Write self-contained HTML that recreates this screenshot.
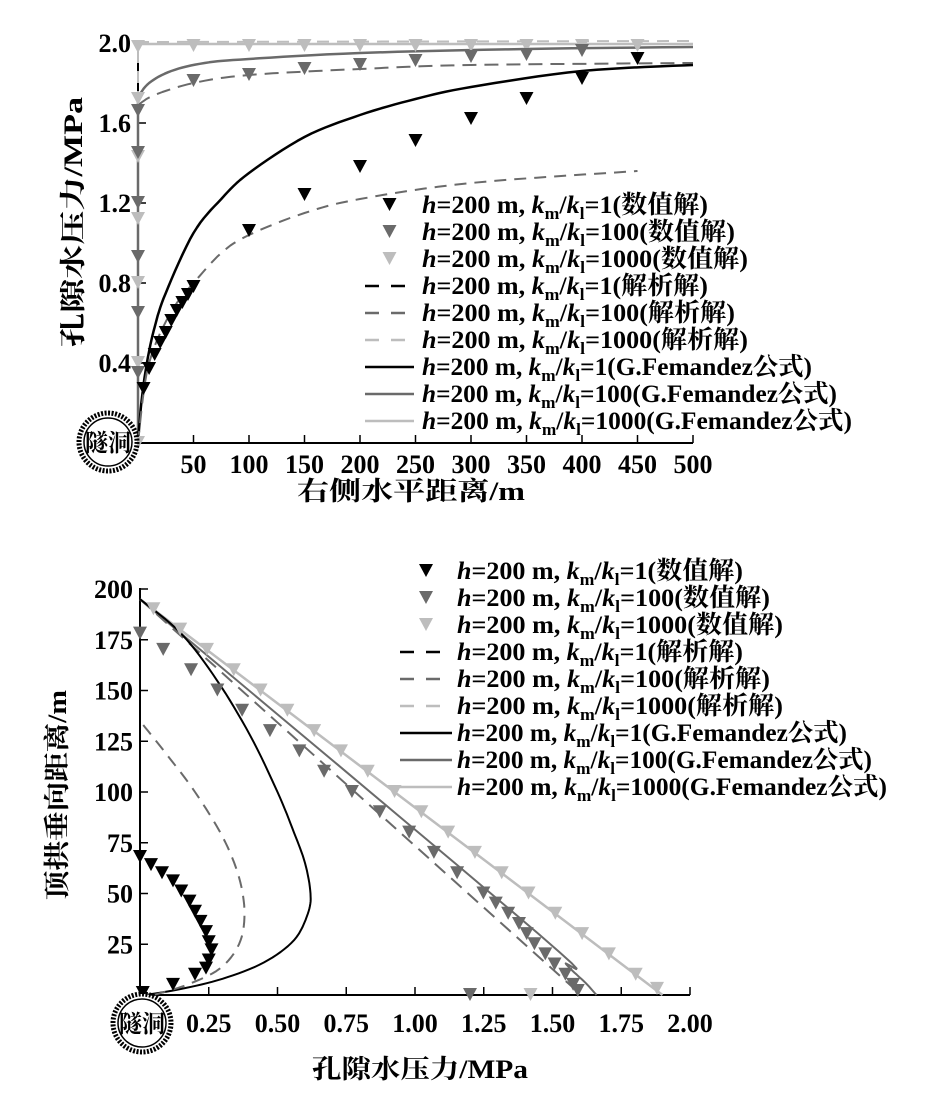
<!DOCTYPE html>
<html><head><meta charset="utf-8"><style>
html,body{margin:0;padding:0;background:#fff;}
svg{display:block;font-family:"Liberation Serif","Noto Serif CJK SC",serif;font-weight:bold;}
</style></head><body>
<svg id="s" width="930" height="1105" viewBox="0 0 930 1105" xmlns="http://www.w3.org/2000/svg">
<rect width="930" height="1105" fill="#fff"/>
<g id="g"></g>
</svg>
<script>
const NS="http://www.w3.org/2000/svg",g=document.getElementById('g');
function el(t,a,txt){const e=document.createElementNS(NS,t);for(const k in a)e.setAttribute(k,a[k]);if(txt!=null)e.textContent=txt;g.appendChild(e);return e;}
function path(pts,st,w,dash){let d='M'+pts.map(p=>p[0].toFixed(1)+','+p[1].toFixed(1)).join(' L');el('path',{d:d,fill:'none',stroke:st,'stroke-width':w,'stroke-dasharray':dash||'none','stroke-linejoin':'round'});}
function tri(x,y,c){el('path',{d:`M${x-7},${y-7} L${x+7},${y-7} L${x},${y+6} Z`,fill:c});}
function smooth(pts,n){n=n||8;const out=[];for(let i=0;i<pts.length-1;i++){const p0=pts[Math.max(0,i-1)],p1=pts[i],p2=pts[i+1],p3=pts[Math.min(pts.length-1,i+2)];for(let j=0;j<n;j++){const t=j/n,t2=t*t,t3=t2*t;out.push([0,1].map(k=>0.5*((2*p1[k])+(-p0[k]+p2[k])*t+(2*p0[k]-5*p1[k]+4*p2[k]-p3[k])*t2+(-p0[k]+3*p1[k]-3*p2[k]+p3[k])*t3)));}}out.push(pts[pts.length-1]);return out;}
const K='#000',D='#6a6a6a',L='#bdbdbd';
const TF=26;
// ===== TOP =====
const TX=v=>138+1.11*v, TY=p=>443-200*p;
const T=a=>a.map(q=>[TX(q[0]),TY(q[1])]);
el('line',{x1:138,y1:443,x2:693,y2:443,stroke:K,'stroke-width':2});
el('line',{x1:138,y1:443,x2:138,y2:42,stroke:K,'stroke-width':2});
for(let v=50;v<=500;v+=50){el('line',{x1:TX(v),y1:443,x2:TX(v),y2:435,stroke:K,'stroke-width':1.5});el('text',{x:TX(v),y:473,'text-anchor':'middle','font-size':TF},v);}
[0.4,0.8,1.2,1.6,2.0].forEach(p=>{el('line',{x1:138,y1:TY(p),x2:146,y2:TY(p),stroke:K,'stroke-width':1.5});el('text',{x:131,y:TY(p)+9,'text-anchor':'end','font-size':TF},p.toFixed(1));});
path(T([[500,1.995],[0,1.995]]),L,2.5);
path(T([[0,0],[0,2.005],[500,2.01]]),L,2,'12,8');
path(T([[0,0],[0,1.73]]).concat(smooth(T([[0,1.73],[10,1.8],[30,1.86],[60,1.9],[100,1.92],[200,1.95],[350,1.97],[500,1.98]]))),D,2.5);
path(smooth(T([[0,1.69],[15,1.74],[50,1.8],[100,1.84],[200,1.87],[300,1.89],[500,1.9]])),D,2,'14,8');
path(smooth(T([[0,0],[3,0.2],[8,0.4],[15,0.58],[25,0.75],[50,1.05],[75,1.22],[100,1.35],[150,1.53],[200,1.64],[250,1.72],[300,1.78],[400,1.86],[500,1.89]])),K,2.5);
path(smooth(T([[0,0],[5,0.25],[10,0.4],[20,0.55],[35,0.7],[50,0.8],[75,0.95],[100,1.04],[150,1.15],[200,1.22],[300,1.3],[450,1.36]])),D,2,'12,8');
[0,0.4,0.8,1.12,1.43,1.72,1.98].forEach(p=>tri(TX(0),TY(p),L));
for(let v=50;v<=450;v+=50)tri(TX(v),TY(1.985),L);
[0.35,0.65,0.93,1.2,1.45,1.66].forEach(p=>tri(TX(0),TY(p),D));
[[50,1.81],[100,1.84],[150,1.87],[200,1.89],[250,1.91],[300,1.93],[350,1.94],[400,1.96]].forEach(q=>tri(TX(q[0]),TY(q[1]),D));
[[5,0.27],[10,0.37],[15,0.44],[20,0.5],[25,0.55],[30,0.61],[35,0.66],[40,0.7],[45,0.74],[50,0.78],[100,1.06],[150,1.24],[200,1.38],[250,1.51],[300,1.62],[350,1.72],[400,1.82],[450,1.92]].forEach(q=>tri(TX(q[0]),TY(q[1]),K));
function tunnel(cx,cy){el('circle',{cx:cx,cy:cy,r:29,fill:'#fff',stroke:'#000','stroke-width':5,'stroke-dasharray':'2,1.5'});el('circle',{cx:cx,cy:cy,r:24,fill:'none',stroke:'#000','stroke-width':1.5});el('text',{x:cx,y:cy+9,'text-anchor':'middle','font-size':24,textLength:46,lengthAdjust:'spacingAndGlyphs'},'隧洞');}
tunnel(108,442);
function legItem(lx0,lx1,tx,y,kind,c,ts,endx){
 if(kind==='tri')tri((lx0+lx1)/2,y,c);
 else if(kind==='dash'){el('line',{x1:lx0,y1:y,x2:lx1,y2:y,stroke:c,'stroke-width':2.5,'stroke-dasharray':'14,12'});}
 else el('line',{x1:lx0,y1:y,x2:lx1,y2:y,stroke:c,'stroke-width':2.5});
 const t=el('text',{x:tx,y:y+8,'font-size':25,textLength:endx-tx,lengthAdjust:'spacingAndGlyphs'});
 t.innerHTML=`<tspan font-style="italic">h</tspan>=200 m, <tspan font-style="italic">k</tspan><tspan font-size="17" dy="6">m</tspan><tspan dy="-6">/</tspan><tspan font-style="italic">k</tspan><tspan font-size="17" dy="6">l</tspan><tspan dy="-6">=${ts}</tspan>`;
}
const items=[['tri',K,'1(数值解)'],['tri',D,'100(数值解)'],['tri',L,'1000(数值解)'],['dash',K,'1(解析解)'],['dash',D,'100(解析解)'],['dash',L,'1000(解析解)'],['solid',K,'1(G.Femandez公式)'],['solid',D,'100(G.Femandez公式)'],['solid',L,'1000(G.Femandez公式)']];
const widths=[286,313,326,286,313,326,390,415,430];
items.forEach((it,i)=>legItem(365,414,422,205+27*i,it[0],it[1],it[2],422+widths[i]));
el('text',{x:411,y:500,'text-anchor':'middle','font-size':26,textLength:228,lengthAdjust:'spacingAndGlyphs'},'右侧水平距离/m');
el('text',{x:0,y:0,'text-anchor':'middle','font-size':26,textLength:250,lengthAdjust:'spacingAndGlyphs',transform:'translate(82,222) rotate(-90)'},'孔隙水压力/MPa');
// ===== BOTTOM =====
const BX=p=>140+275*p, BY=d=>995-2.03*d;
const B=a=>a.map(q=>[BX(q[0]),BY(q[1])]);
el('line',{x1:140,y1:995,x2:690,y2:995,stroke:K,'stroke-width':2});
el('line',{x1:140,y1:995,x2:140,y2:588,stroke:K,'stroke-width':2});
for(let i=1;i<=8;i++){const p=i*0.25;el('line',{x1:BX(p),y1:995,x2:BX(p),y2:987,stroke:K,'stroke-width':1.5});el('text',{x:BX(p),y:1032,'text-anchor':'middle','font-size':TF},p.toFixed(2));}
for(let d=25;d<=200;d+=25){el('line',{x1:140,y1:BY(d),x2:148,y2:BY(d),stroke:K,'stroke-width':1.5});el('text',{x:133,y:BY(d)+9,'text-anchor':'end','font-size':TF},d);}
path(B([[0,195],[1.9,0]]),L,2.5);
path(B([[0,195],[1.9,0]]),L,2,'12,8');
path(smooth(B([[0,195],[1.45,30],[1.55,15],[1.62,6],[1.66,0]])),D,2);
path(B([[0,195],[1.58,3]]),D,2,'14,8');
path(smooth(B([[0.02,0],[0.15,3],[0.3,8],[0.45,16],[0.56,27],[0.61,40],[0.62,50],[0.6,65],[0.56,80],[0.5,100],[0.4,128],[0.28,155],[0.15,178],[0,195]])),K,2);
path(smooth(B([[0.05,0],[0.17,5],[0.29,13],[0.36,25],[0.38,40],[0.36,58],[0.3,78],[0.2,100],[0.1,118],[0,135]])),D,2,'12,8');
for(let d=190;d>=5;d-=10){tri(BX(1.9*(195-d)/195),BY(d),L);}
tri(BX(1.42),BY(0),L);tri(BX(1.88),BY(3),L);
(function(){const pts=[[0,178],[0.15,170],[0.33,160],[0.5,150],[0.66,140],[0.84,130],[1.03,120],[1.19,110],[1.37,100],[1.55,90],[1.74,80],[1.9,70],[2.05,60],[2.22,50],[2.3,45],[2.38,40],[2.45,35],[2.5,30],[2.55,25],[2.62,20],[2.68,15],[2.75,10],[2.8,5],[2.83,2]];
pts.forEach(q=>tri(BX(q[0]*0.5625),BY(q[1]),D));})();
tri(BX(1.2),BY(0),D);
[[0,68],[0.04,64],[0.08,60],[0.12,56],[0.15,51],[0.18,46],[0.2,41],[0.22,36],[0.24,31],[0.25,26],[0.26,22],[0.25,17],[0.24,13],[0.2,10],[0.12,5],[0.01,1]].forEach(q=>tri(BX(q[0]),BY(q[1]),K));
tunnel(142,1023);
items.forEach((it,i)=>legItem(400,452,457,571+27*i,it[0],it[1],it[2],457+widths[i]));
el('text',{x:420,y:1078,'text-anchor':'middle','font-size':26,textLength:216,lengthAdjust:'spacingAndGlyphs'},'孔隙水压力/MPa');
el('text',{x:0,y:0,'text-anchor':'middle','font-size':26,textLength:210,lengthAdjust:'spacingAndGlyphs',transform:'translate(66,795) rotate(-90)'},'顶拱垂向距离/m');
</script>
</body></html>
